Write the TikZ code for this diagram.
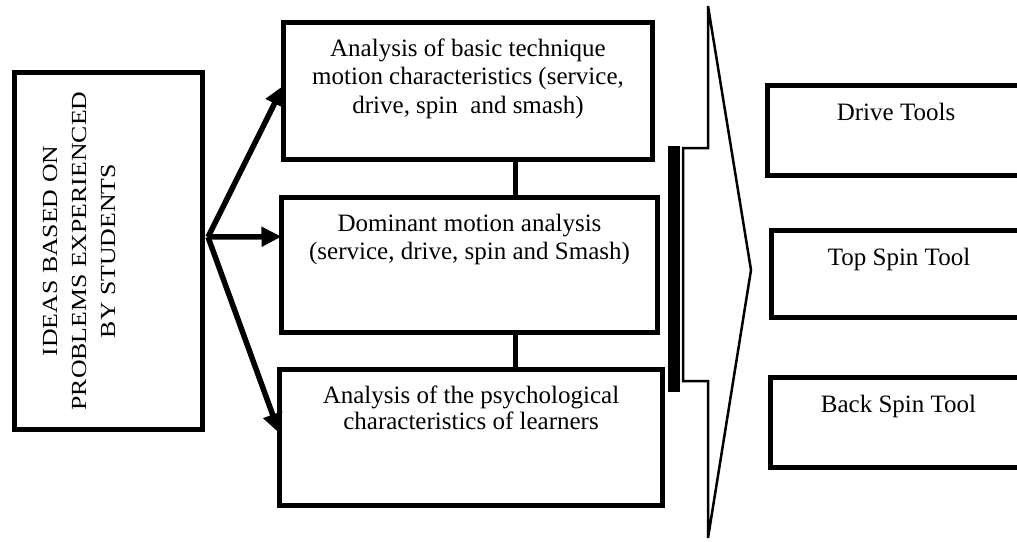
\documentclass[tikz,border=0pt]{standalone}
\usepackage{fontspec}
\setmainfont{Liberation Serif}
\usetikzlibrary{arrows.meta,calc}
\begin{document}
\begin{tikzpicture}[x=1pt,y=-1pt,
  box/.style={draw=black,line width=5pt,inner sep=0pt,outer sep=0pt,fill=white},
  txt/.style={font=\fontsize{25}{28.5}\selectfont,align=center,inner sep=0pt,anchor=north},
  link/.style={line width=5pt},
  arr/.style={line width=5.5pt,-{Triangle[length=20pt,width=19pt]}}]
\useasboundingbox (0,0) rectangle (1017,541);
\clip (0,0) rectangle (1017,541);

% source box with rotated, widened title
\node[box,minimum width=188pt,minimum height=357pt] (src) at (108.5,251) {};
\node[font=\fontsize{21.5}{29}\selectfont,align=center,rotate=90,inner sep=0pt] (srct) at (79,251)
  {\scalebox{1.2}[1]{IDEAS BASED ON}\\\scalebox{1.2}[1]{PROBLEMS EXPERIENCED}\\\scalebox{1.2}[1]{BY STUDENTS}};

% analysis boxes
\node[box,minimum width=369pt,minimum height=137pt] (b1) at (468,91) {};
\node[box,minimum width=376pt,minimum height=135pt] (b2) at (469.5,265) {};
\node[box,minimum width=383pt,minimum height=136pt] (b3) at (471,437.5) {};
\node[txt] (t1) at ([yshift=-15.5pt]b1.north) {\rule{0pt}{18pt}Analysis of basic technique\\motion characteristics (service,\\drive, spin \ and smash)};
\node[txt] (t2) at ([yshift=-15.5pt]b2.north) {\rule{0pt}{18pt}Dominant motion analysis\\(service, drive, spin and Smash)};
\node[txt,font=\fontsize{25}{26.5}\selectfont] (t3) at ([yshift=-15.5pt]b3.north) {\rule{0pt}{18pt}Analysis of the psychological\\characteristics of learners};

% tool boxes
\node[box,minimum width=280pt,minimum height=90pt] (r1) at (907.5,130.5) {};
\node[box,minimum width=280pt,minimum height=87pt] (r2) at (911.5,274) {};
\node[box,minimum width=280pt,minimum height=90pt] (r3) at (910.5,422.5) {};
\node[txt] (rt1) at (896,102) {\rule{0pt}{18pt}Drive Tools};
\node[txt] (rt2) at (899,247) {\rule{0pt}{18pt}Top Spin Tool};
\node[txt] (rt3) at (898.5,394) {\rule{0pt}{18pt}Back Spin Tool};

% arrows from the source box
\coordinate (fork) at (208,237);
\draw[arr] (fork) -- ($(b1.north west)!0.46!(b1.south west)$);
\draw[arr] (fork) -- ($(b2.north west)!0.29!(b2.south west)$);
\draw[arr] (fork) -- ($(b3.north west)!0.47!(b3.south west)$);

% links between the analysis boxes
\coordinate (spine) at (515,0);
\draw[link] (b1.south -| spine) -- (b2.north -| spine);
\draw[link] (b2.south -| spine) -- (b3.north -| spine);

% bracket bar and large outlined arrow
\fill (668,146) rectangle (680,392);
\draw[line width=2.5pt] (708,6) -- (708,148) -- (683,148) -- (683,381)
  -- (708,381) -- (708,538) -- (751,270) -- cycle;
\end{tikzpicture}
\end{document}
